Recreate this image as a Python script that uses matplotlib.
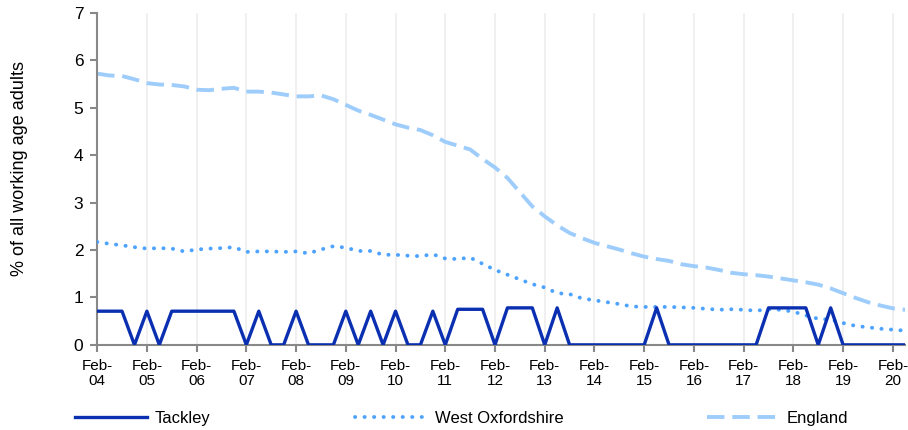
import numpy as np
import matplotlib.pyplot as plt

plt.rcParams['font.family'] = ['Liberation Sans', 'DejaVu Sans']

# quarterly values, Feb-04 .. May-20
years = ['04', '05', '06', '07', '08', '09', '10', '11', '12', '13',
         '14', '15', '16', '17', '18', '19', '20']

tackley = [0.71, 0.71, 0.71, 0, 0.71, 0, 0.71, 0.71, 0.71, 0.71, 0.71, 0.71,
           0, 0.71, 0, 0, 0.71, 0, 0, 0, 0.71, 0, 0.71, 0, 0.71, 0, 0, 0.71,
           0, 0.75, 0.75, 0.75, 0, 0.78, 0.78, 0.78, 0, 0.78, 0, 0, 0, 0,
           0, 0, 0, 0.78, 0, 0, 0, 0, 0, 0, 0, 0, 0.78, 0.78, 0.78, 0.78,
           0, 0.78, 0, 0, 0, 0, 0, 0]

west_oxon = [2.17, 2.13, 2.10, 2.06, 2.03, 2.04, 2.03, 1.97, 2.01, 2.03, 2.04, 2.06,
             1.96, 1.97, 1.97, 1.96, 1.97, 1.93, 2.01, 2.08, 2.05, 1.98, 1.98, 1.90,
             1.90, 1.88, 1.87, 1.91, 1.82, 1.81, 1.84, 1.71, 1.58, 1.48, 1.38, 1.28,
             1.21, 1.09, 1.07, 0.98, 0.94, 0.90, 0.86, 0.81, 0.80, 0.80, 0.80, 0.79,
             0.78, 0.76, 0.74, 0.75, 0.74, 0.72, 0.75, 0.74, 0.70, 0.62, 0.55, 0.53,
             0.46, 0.40, 0.37, 0.34, 0.32, 0.30]

england = [5.72, 5.68, 5.67, 5.60, 5.52, 5.49, 5.48, 5.45, 5.38, 5.37, 5.40, 5.42,
           5.34, 5.34, 5.32, 5.28, 5.24, 5.24, 5.26, 5.18, 5.06, 4.94, 4.85, 4.75,
           4.65, 4.58, 4.53, 4.42, 4.28, 4.20, 4.12, 3.92, 3.74, 3.52, 3.22, 2.92,
           2.71, 2.52, 2.36, 2.25, 2.15, 2.08, 2.01, 1.93, 1.86, 1.81, 1.77, 1.70,
           1.66, 1.63, 1.58, 1.52, 1.49, 1.47, 1.44, 1.40, 1.36, 1.32, 1.27, 1.19,
           1.09, 0.99, 0.90, 0.83, 0.77, 0.74]

x = np.arange(len(england))

fig = plt.figure(figsize=(9.08, 4.30), dpi=100)
ax = fig.add_axes([0.107, 0.198, 0.890, 0.772])

ax.plot(x, tackley, color='#0a2fb0', lw=2.4, label='Tackley', zorder=4)
ax.plot(x, west_oxon, color='#4da3ff', lw=2.8, linestyle=(0, (0.05, 2.4)),
        dash_capstyle='round', label='West Oxfordshire', zorder=3)
ax.plot(x, england, color='#9fcdfb', lw=2.8, linestyle=(0, (4.5, 2.0)),
        label='England', zorder=2)

ax.set_xlim(0, len(x) - 1)
ax.set_ylim(0, 7)
ax.set_yticks(range(0, 8))
ax.set_xticks(np.arange(0, len(x), 4))
ax.set_xticklabels(['Feb-\n' + y for y in years], fontsize=11, linespacing=1.1)
ax.tick_params(axis='y', labelsize=12.5, color='#888888', length=5, width=1.5, pad=5)
ax.tick_params(axis='x', color='#888888', length=5, width=1.5, pad=5)
ax.grid(axis='x', color='#eeeeee', lw=1.2)
ax.set_axisbelow(True)

for s in ['top', 'right']:
    ax.spines[s].set_visible(False)
for s in ['left', 'bottom']:
    ax.spines[s].set_color('#888888')
    ax.spines[s].set_linewidth(1.5)

ax.set_ylabel('% of all working age adults', fontsize=13)
ax.yaxis.set_label_coords(-0.085, 0.53)

fig.legend(loc='lower left', bbox_to_anchor=(0.066, -0.025, 0.885, 0.06), ncol=3,
           mode='expand', frameon=False, fontsize=12, handlelength=4.3,
           handletextpad=0.5)

fig.savefig('out.png', dpi=100)
